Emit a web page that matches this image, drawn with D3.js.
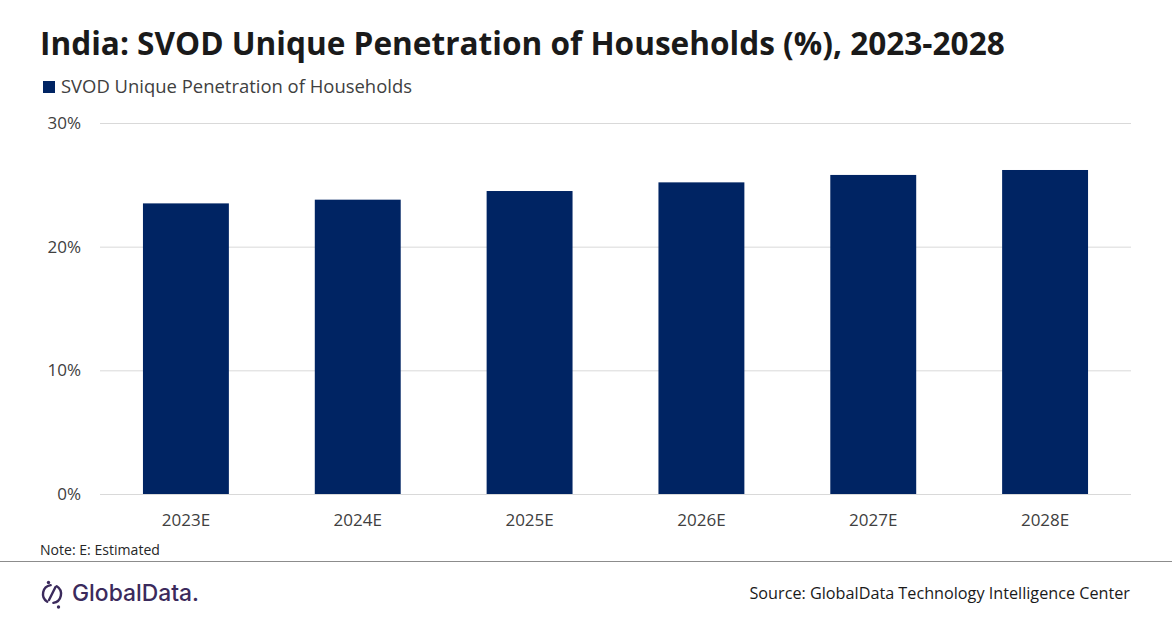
<!DOCTYPE html>
<html>
<head>
<meta charset="utf-8">
<script src="https://cdn.jsdelivr.net/npm/d3@7"></script>
<style>
  body { margin: 0; background: #fff; }
  svg { display: block; font-family: "Open Sans", "Noto Sans", sans-serif; }
</style>
</head>
<body>
<svg id="chart" width="1172" height="628"></svg>
<script>
// chart data
var years = ['2023E', '2024E', '2025E', '2026E', '2027E', '2028E'];
var penetration = [23.5, 23.8, 24.5, 25.2, 25.8, 26.2];
var yTicks = [0, 10, 20, 30];
var seriesName = 'SVOD Unique Penetration of Households';

var W = 1172, H = 628;
var margin = { left: 100, right: 41, top: 123, bottom: 134 };
var barColor = '#002463';
var textColor = '#404040';

var svg = d3.select('#chart');

// fit text to a measured width in the reference
function fitWidth(sel, target) {
  var len = sel.node().getComputedTextLength();
  var fs = parseFloat(sel.attr('font-size'));
  sel.attr('font-size', (fs * target / len).toFixed(2));
}

var title = svg.append('text')
  .attr('x', 40).attr('y', 55)
  .attr('font-size', 30).attr('font-weight', 700)
  .attr('fill', '#1a1a1a')
  .text('India: SVOD Unique Penetration of Households (%), 2023-2028');
fitWidth(title, 965);

// legend
svg.append('rect')
  .attr('x', 43).attr('y', 81).attr('width', 12).attr('height', 12)
  .attr('fill', barColor);
var leg = svg.append('text')
  .attr('x', 61).attr('y', 93)
  .attr('font-size', 17).attr('fill', textColor)
  .text(seriesName);
fitWidth(leg, 351);

var x = d3.scaleBand()
  .domain(years)
  .range([margin.left, W - margin.right])
  .paddingInner(0.5).paddingOuter(0.25);

var y = d3.scaleLinear()
  .domain([0, 30])
  .range([H - margin.bottom, margin.top]);

// gridlines
svg.append('g')
  .selectAll('line').data(yTicks).enter().append('line')
  .attr('x1', margin.left).attr('x2', W - margin.right)
  .attr('y1', function(d) { return y(d) + 0.5; })
  .attr('y2', function(d) { return y(d) + 0.5; })
  .attr('stroke', '#d9d9d9').attr('stroke-width', 1);

// y axis labels
var yAxis = svg.append('g')
  .attr('transform', 'translate(81,0)')
  .call(d3.axisLeft(y).tickValues(yTicks).tickSize(0).tickPadding(0)
    .tickFormat(function(d) { return d + '%'; }));
yAxis.select('.domain').remove();
yAxis.selectAll('text')
  .attr('font-size', 17).attr('fill', textColor)
  .attr('font-family', '"Open Sans", sans-serif');

// bars
svg.append('g')
  .selectAll('rect').data(penetration).enter().append('rect')
  .attr('x', function(d, i) { return x(years[i]); })
  .attr('width', x.bandwidth())
  .attr('y', function(d) { return y(d); })
  .attr('height', function(d) { return y(0) - y(d); })
  .attr('fill', barColor);

// x axis labels
var xAxis = svg.append('g')
  .attr('transform', 'translate(0,' + (y(0) + 18) + ')')
  .call(d3.axisBottom(x).tickSize(0).tickPadding(0));
xAxis.select('.domain').remove();
xAxis.selectAll('text')
  .attr('font-size', 17).attr('fill', textColor)
  .attr('dy', '0.85em')
  .attr('font-family', '"Open Sans", sans-serif');

// note + separator
var note = svg.append('text')
  .attr('x', 40).attr('y', 555)
  .attr('font-size', 13).attr('fill', '#262626')
  .text('Note: E: Estimated');
fitWidth(note, 120);

svg.append('line')
  .attr('x1', 0).attr('x2', W)
  .attr('y1', 561.5).attr('y2', 561.5)
  .attr('stroke', '#8c8c8c').attr('stroke-width', 1.2);

// source
var src = svg.append('text')
  .attr('x', 1130).attr('y', 599)
  .attr('text-anchor', 'end')
  .attr('font-size', 16.5).attr('fill', '#1a1a1a')
  .text('Source: GlobalData Technology Intelligence Center');
fitWidth(src, 381);

// logo
var lc = [52, 594], lr = 9;
function ringArc(a0, a1) {
  var p = d3.path();
  p.arc(lc[0], lc[1], lr, a0, a1);
  return p.toString();
}
var logo = svg.append('g').attr('fill', 'none').attr('stroke', '#3b2a5c')
  .attr('stroke-width', 2.4).attr('stroke-linecap', 'round');
logo.append('path').attr('d', ringArc(-Math.PI / 2 + 0.55, Math.PI / 2 - 0.15));
logo.append('path').attr('d', ringArc(Math.PI / 2 + 0.55, 3 * Math.PI / 2 - 0.15));
logo.append('line')
  .attr('x1', 55.5).attr('y1', 587).attr('x2', 49).attr('y2', 600);
logo.append('circle').attr('cx', 48.5).attr('cy', 582.5).attr('r', 1.7)
  .attr('fill', '#3b2a5c').attr('stroke', 'none');
logo.append('circle').attr('cx', 58.5).attr('cy', 607).attr('r', 1.7)
  .attr('fill', '#3b2a5c').attr('stroke', 'none');
var lt = svg.append('text')
  .attr('x', 72).attr('y', 601)
  .attr('font-size', 20).attr('font-weight', 500)
  .attr('font-family', 'Inter, sans-serif')
  .attr('fill', '#3b2a5c')
  .text('GlobalData.');
fitWidth(lt, 127);
</script>
</body>
</html>
